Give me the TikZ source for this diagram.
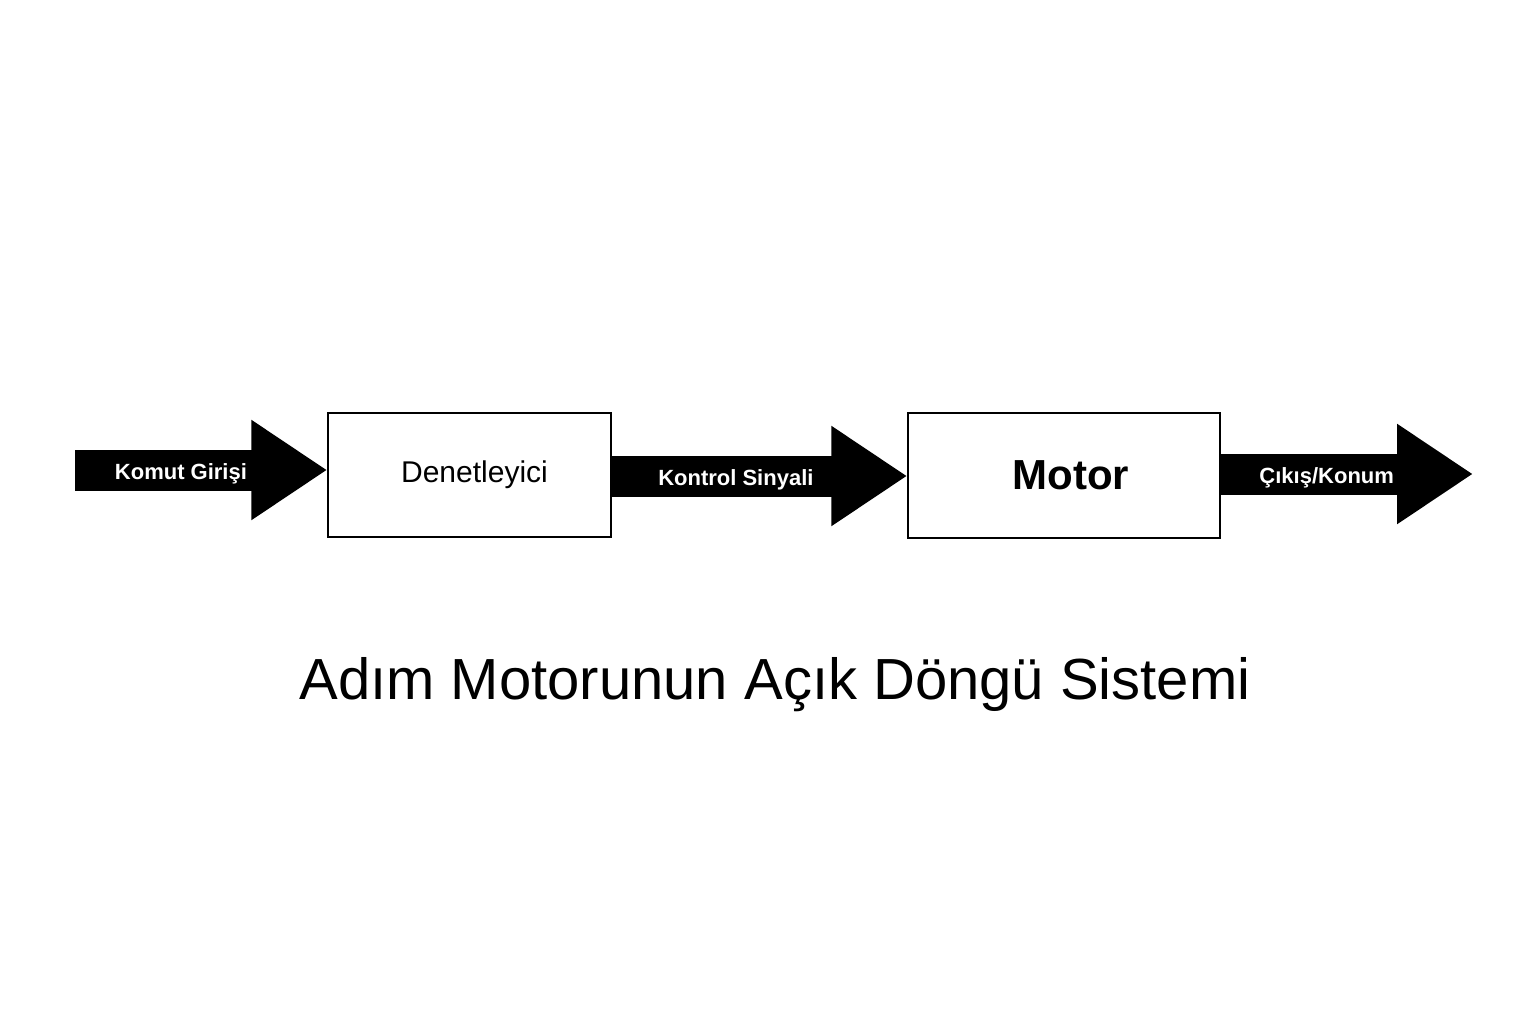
\documentclass[tikz,border=0pt]{standalone}
\usepackage{fontspec}
\setmainfont{Liberation Sans}
\usetikzlibrary{arrows.meta}
\begin{document}
\begin{tikzpicture}[x=0.5pt, y=-0.5pt,
  block/.style={shape=rectangle, draw=black, line width=0.75pt, inner sep=0pt},
  flow/.style={draw=black, line width=20.5pt, -{Triangle[length=38pt, width=47.5pt]}},
  flowlabel/.style={text=white, yshift=-2pt, font=\bfseries\fontsize{11}{13}\selectfont}]
\useasboundingbox (0,0) rectangle (1536,1024);
\node[block, minimum width=141.5pt, minimum height=62pt, font=\fontsize{15}{18}\selectfont] (den) at (469.5,475) {\hspace*{5pt}Denetleyici};
\node[block, minimum width=156pt, minimum height=62.5pt, font=\bfseries\fontsize{21}{25}\selectfont] (mot) at (1064,475.5) {\hspace*{7pt}Motor};
\coordinate (in) at (75,470);
\coordinate (mid) at (611,476);
\coordinate (out) at (1473,474);
\draw[flow] (in) -- node[flowlabel, pos=0.42] {Komut Girişi} (den.west |- in);
\draw[flow] (den.east |- mid) -- node[flowlabel, pos=0.42] {Kontrol Sinyali} (mot.west |- mid);
\draw[flow] (mot.east |- out) -- node[flowlabel, pos=0.42] {Çıkış/Konum} (out);
\node[font=\fontsize{29}{34}\selectfont] (title) at (775,685) {Adım Motorunun Açık Döngü Sistemi};
\end{tikzpicture}
\end{document}
